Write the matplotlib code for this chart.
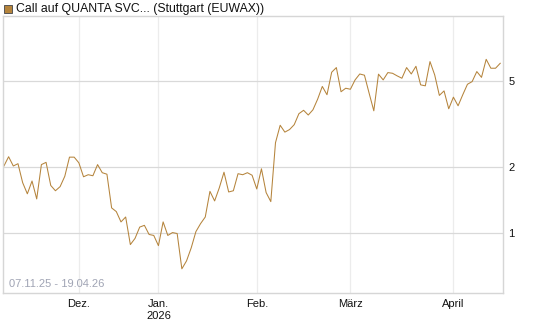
import numpy as np
import matplotlib.pyplot as plt
from matplotlib.patches import Rectangle

# data: one value per trading day, 07.11.25 - 19.04.26
prices = [2.03, 2.24, 2.03, 2.08, 1.70, 1.51, 1.73, 1.43, 2.06, 2.11,
          1.65, 1.56, 1.63, 1.82, 2.23, 2.23, 2.10, 1.81, 1.85, 1.83,
          2.06, 1.89, 1.86, 1.30, 1.25, 1.12, 1.18, 0.88, 0.94, 1.06,
          1.08, 0.98, 0.97, 0.87, 1.12, 0.97, 1.00, 0.99, 0.68, 0.74,
          0.85, 1.01, 1.10, 1.18, 1.55, 1.40, 1.61, 1.90, 1.54, 1.56,
          1.87, 1.85, 1.89, 1.84, 1.59, 1.97, 1.53, 1.39, 2.60, 3.13,
          2.91, 2.99, 3.15, 3.54, 3.67, 3.49, 3.69, 4.13, 4.73, 4.33,
          5.50, 5.78, 4.47, 4.64, 4.59, 5.07, 5.40, 5.33, 4.40, 3.65,
          5.39, 5.07, 5.48, 5.44, 5.29, 5.16, 5.78, 5.40, 5.86, 4.81,
          4.76, 6.16, 5.35, 4.30, 4.51, 3.73, 4.22, 3.85, 4.33, 4.84,
          4.98, 5.54, 5.21, 6.31, 5.74, 5.74, 6.05]

month_pos = [16, 33, 54, 74, 96]
month_labels = ['Dez.', 'Jan.\n2026', 'Feb.', 'März', 'April']
y_ticks = [1, 2, 5]
y_labels = ['1', '2', '5']

title = 'Call auf QUANTA SVC... (Stuttgart (EUWAX))'
range_text = '07.11.25 - 19.04.26'
line_color = '#b5843c'

plt.rcParams['font.family'] = ['Liberation Sans', 'DejaVu Sans']

fig = plt.figure(figsize=(5.45, 3.27), dpi=100)
ax = fig.add_axes([0.0055, 0.104, 0.9175, 0.847])

x = np.arange(len(prices))
ax.plot(x, prices, color=line_color, lw=0.75)

ax.set_yscale('log')
ax.set_ylim(0.526, 10)
ax.set_xlim(-0.2, 106.6)

ax.set_yticks(y_ticks)
ax.set_yticklabels(y_labels)
ax.minorticks_off()
ax.yaxis.tick_right()
ax.set_xticks(month_pos)
ax.set_xticklabels(month_labels, linespacing=1.35)
ax.tick_params(axis='both', length=0, labelsize=8, colors='#111111')
ax.tick_params(axis='y', pad=4)
ax.tick_params(axis='x', pad=4)

ax.grid(axis='y', color='#d9d9d9', lw=0.9)
ax.grid(axis='x', color='#ececec', lw=0.9)
ax.set_axisbelow(True)
for s in ax.spines.values():
    s.set_color('#d6d6d6')
    s.set_linewidth(1)

ax.text(0.012, 0.015, range_text, transform=ax.transAxes, fontsize=8,
        color='#a0a4b4', ha='left', va='bottom')

# legend box + title
fig.patches.append(Rectangle((4 / 545, 1 - 13 / 327), 8 / 545, 8 / 327,
                             transform=fig.transFigure, facecolor='#b5843c',
                             edgecolor='#555555', lw=0.7))
fig.text(16 / 545, 1 - 9 / 327, title, fontsize=8.8, color='#111111',
         ha='left', va='center')

fig.savefig('out.png', dpi=100)
